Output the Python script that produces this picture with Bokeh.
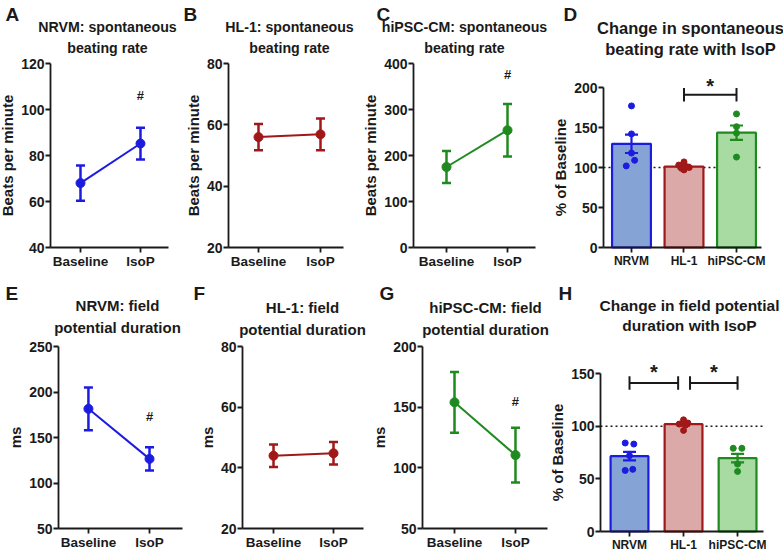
from bokeh.plotting import figure
from bokeh.models import Range1d, FixedTicker, Label, Whisker, TeeHead, ColumnDataSource
from bokeh.layouts import row, column
from bokeh.embed import file_html
from bokeh.resources import INLINE

FONT = "Liberation Sans"
INK = "#1a1a1a"

# ---------------- data ----------------
time_points = ["Baseline", "IsoP"]
cell_types = ["NRVM", "HL-1", "hiPSC-CM"]

nrvm_rate_mean = [68.0, 85.2]
nrvm_rate_sem = [7.7, 6.9]
hl1_rate_mean = [56.0, 56.9]
hl1_rate_sem = [4.3, 5.2]
ipsc_rate_mean = [175.0, 255.0]
ipsc_rate_sem = [35.0, 57.0]

nrvm_fpd_mean = [181.5, 126.5]
nrvm_fpd_sem = [23.5, 12.8]
hl1_fpd_mean = [44.0, 44.8]
hl1_fpd_sem = [3.7, 3.7]
ipsc_fpd_mean = [154.0, 110.5]
ipsc_fpd_sem = [25.0, 22.5]

rate_change_mean = [129.6, 101.2, 143.5]
rate_change_sem = [11.5, 2.0, 9.0]
rate_change_nrvm = [177, 142, 118, 102, 109]
rate_change_hl1 = [107, 103, 100, 97, 99, 101]
rate_change_ipsc = [167, 151, 143, 113]

fpd_change_mean = [71.5, 102.0, 69.7]
fpd_change_sem = [4.0, 1.5, 4.0]
fpd_change_nrvm = [84, 83, 72, 58, 59]
fpd_change_hl1 = [106, 103, 102, 101, 96]
fpd_change_ipsc = [79, 79, 64, 57]

rate_hash = [106, None, 376]
fpd_hash = [173, None, 155]
baseline_pct = 100

# ---------------- styling ----------------
BLUE, RED, GREEN = "#1c1ce0", "#a01818", "#1f8a1f"
FILLS = ["#86a3d5", "#dca9a9", "#a8dba2"]
LINES = [BLUE, RED, GREEN]
# horizontal scatter offsets for the individual points (presentation only)
JIT_RATE = [[0, 0, 0, -0.1, 0.06], [0, -0.1, 0.1, 0, -0.05, 0.05], [0, 0, 0, 0]]
JIT_FPD = [[-0.08, 0.08, 0, -0.08, 0.06], [0, 0.08, -0.08, 0.04, 0], [-0.08, 0.08, 0, 0]]


def spec(w, h, fl, fw, ft, fh, xr, yr):
    return dict(w=w, h=h, fl=fl, fw=fw, ft=ft, fh=fh, xr=xr, yr=yr)


def xd(s, px):
    """pixel offset from the left edge of the data area -> data x"""
    x0, x1 = s["xr"]
    return x0 + px * (x1 - x0) / s["fw"]


def yd(s, py):
    """pixel offset below the top edge of the data area -> data y"""
    y0, y1 = s["yr"]
    return y1 - py * (y1 - y0) / s["fh"]


def make_fig(s):
    full_x = (xd(s, -s["fl"]), xd(s, s["w"] - s["fl"]))
    full_y = (yd(s, s["h"] - s["ft"]), yd(s, -s["ft"]))
    p = figure(width=s["w"], height=s["h"], x_range=Range1d(*full_x), y_range=Range1d(*full_y),
               min_border_left=0, min_border_right=0, min_border_top=0, min_border_bottom=0,
               toolbar_location=None, output_backend="svg", outline_line_color=None, title=None)
    p.xgrid.visible = False
    p.ygrid.visible = False
    return p


def style(p, s, xticks, xlabels, xsize, yticks, ylabel):
    for ax in (p.xaxis[0], p.yaxis[0]):
        ax.axis_line_color = INK
        ax.axis_line_width = 1.8
        ax.major_tick_line_color = INK
        ax.major_tick_line_width = 1.8
        ax.major_tick_in = 0
        ax.major_tick_out = 5
        ax.minor_tick_line_color = None
        ax.major_label_text_font = FONT
        ax.major_label_text_font_style = "bold"
        ax.major_label_text_color = INK
        ax.major_label_standoff = 1
    p.xaxis.major_label_text_font_size = xsize
    p.yaxis.major_label_text_font_size = "14px"
    p.xaxis.ticker = FixedTicker(ticks=xticks)
    p.xaxis.major_label_overrides = {t: l for t, l in zip(xticks, xlabels)}
    p.xaxis.fixed_location = s["yr"][0]
    p.xaxis.bounds = s["xr"]
    p.yaxis.ticker = FixedTicker(ticks=yticks)
    p.yaxis.fixed_location = s["xr"][0]
    p.yaxis.bounds = s["yr"]
    p.yaxis.axis_label = ylabel
    p.yaxis.axis_label_text_font = FONT
    p.yaxis.axis_label_text_font_style = "bold"
    p.yaxis.axis_label_text_font_size = "15px"
    p.yaxis.axis_label_text_color = INK
    p.yaxis.axis_label_standoff = 2


def label(p, s, px, py, text, size, align="center", baseline="middle"):
    p.add_layout(Label(x=xd(s, px), y=yd(s, py), text=text, text_font=FONT,
                       text_font_style="bold", text_font_size=size, text_color=INK,
                       text_align=align, text_baseline=baseline))


def titles(p, s, lines, above, cx, size):
    for t, o in zip(lines, above):
        label(p, s, cx, -o, t, size)


def letter(p, s, letter_text, lx, ly):
    label(p, s, lx - s["fl"], ly - s["ft"], letter_text, "19px", align="left", baseline="top")


def line_panel(s, means, sems, color, ylabel, yticks, hash_y):
    p = make_fig(s)
    xs = list(range(len(time_points)))
    src = ColumnDataSource(dict(x=xs, m=means,
                                lo=[m - e for m, e in zip(means, sems)],
                                hi=[m + e for m, e in zip(means, sems)]))
    p.line("x", "m", source=src, line_color=color, line_width=2)
    p.add_layout(Whisker(source=src, base="x", upper="hi", lower="lo", dimension="height",
                         line_color=color, line_width=2.5, level="overlay",
                         upper_head=TeeHead(size=9, line_color=color, line_width=2.5),
                         lower_head=TeeHead(size=9, line_color=color, line_width=2.5)))
    p.scatter("x", "m", source=src, size=9, color=color)
    style(p, s, xs, time_points, "13.5px", yticks, ylabel)
    if hash_y is not None:
        p.add_layout(Label(x=1, y=hash_y, text="#", text_font=FONT, text_font_style="bold",
                           text_font_size="13px", text_color=INK, text_align="center",
                           text_baseline="middle"))
    return p


def bar_panel(s, means, sems, groups, jit, yticks, bar_w, brackets, cap):
    p = make_fig(s)
    xs = list(range(len(cell_types)))
    p.segment(x0=[s["xr"][0]], y0=[baseline_pct], x1=[s["xr"][1]], y1=[baseline_pct],
              line_color=INK, line_dash="2 3", line_width=1.5)
    p.vbar(x=xs, top=means, bottom=0, width=bar_w, fill_color=FILLS, line_color=LINES, line_width=2.2)
    for i, (pts, jj) in enumerate(zip(groups, jit)):
        p.scatter([i + j for j in jj], pts, size=6, color=LINES[i])
        src = ColumnDataSource(dict(x=[i], lo=[means[i] - sems[i]], hi=[means[i] + sems[i]]))
        p.add_layout(Whisker(source=src, base="x", upper="hi", lower="lo", dimension="height",
                             line_color=LINES[i], line_width=2.2, level="overlay",
                             upper_head=TeeHead(size=13, line_color=LINES[i], line_width=2.2),
                             lower_head=TeeHead(size=13, line_color=LINES[i], line_width=2.2)))
    for (a, b, yb, ys) in brackets:
        p.segment(x0=[a, a, b], y0=[yb, yb - cap, yb - cap], x1=[b, a, b], y1=[yb, yb + cap, yb + cap],
                  line_color=INK, line_width=2)
        p.add_layout(Label(x=(a + b) / 2, y=ys, text="*", text_font=FONT, text_font_style="bold",
                           text_font_size="20px", text_color=INK, text_align="center",
                           text_baseline="alphabetic"))
    style(p, s, xs, cell_types, "12px", yticks, "% of Baseline")
    return p


# ---------------- row 1 (height 270) ----------------
sA = spec(180, 270, 50, 118, 63, 184, (-0.5, 1.467), (40, 120))
sB = spec(182, 270, 48, 115, 63, 184, (-0.484, 1.371), (20, 80))
sC = spec(191, 270, 51, 122, 63, 184, (-0.541, 1.459), (0, 400))
sD = spec(230, 270, 50, 158, 87, 160, (-0.533, 2.476), (0, 200))

pA = line_panel(sA, nrvm_rate_mean, nrvm_rate_sem, BLUE, "Beats per minute", [40, 60, 80, 100, 120], rate_hash[0])
titles(pA, sA, ["NRVM: spontaneous", "beating rate"], [37, 16], 57, "14.2px")
letter(pA, sA, "A", 5, 3)

pB = line_panel(sB, hl1_rate_mean, hl1_rate_sem, RED, "Beats per minute", [20, 40, 60, 80], rate_hash[1])
titles(pB, sB, ["HL-1: spontaneous", "beating rate"], [37, 16], 61, "14.2px")
letter(pB, sB, "B", 3, 3)

pC = line_panel(sC, ipsc_rate_mean, ipsc_rate_sem, GREEN, "Beats per minute", [0, 100, 200, 300, 400], rate_hash[2])
titles(pC, sC, ["hiPSC-CM: spontaneous", "beating rate"], [37, 16], 51, "14.2px")
letter(pC, sC, "C", 14, 3)

pD = bar_panel(sD, rate_change_mean, rate_change_sem, [rate_change_nrvm, rate_change_hl1, rate_change_ipsc],
               JIT_RATE, [0, 50, 100, 150, 200], 0.74, [(1, 2, 191, 202)], 8.5)
titles(pD, sD, ["Change in spontaneous", "beating rate with IsoP"], [60, 39], 87, "16.5px")
letter(pD, sD, "D", 10, 3)

# ---------------- row 2 (height 281) ----------------
sE = spec(188, 281, 58, 124, 76, 182, (-0.49, 1.54), (50, 250))
sF = spec(184, 281, 54, 121, 76, 182, (-0.517, 1.5), (20, 80))
sG = spec(178, 281, 50, 125, 76, 182, (-0.525, 1.525), (50, 200))
sH = spec(233, 281, 50, 163, 103, 158, (-0.537, 2.48), (0, 150))

pE = line_panel(sE, nrvm_fpd_mean, nrvm_fpd_sem, BLUE, "ms", [50, 100, 150, 200, 250], fpd_hash[0])
titles(pE, sE, ["NRVM: field", "potential duration"], [41, 19], 59, "15px")
letter(pE, sE, "E", 5, 12)

pF = line_panel(sF, hl1_fpd_mean, hl1_fpd_sem, RED, "ms", [20, 40, 60, 80], fpd_hash[1])
titles(pF, sF, ["HL-1: field", "potential duration"], [39, 17], 60, "15px")
letter(pF, sF, "F", 5, 12)

pG = line_panel(sG, ipsc_fpd_mean, ipsc_fpd_sem, GREEN, "ms", [50, 100, 150, 200], fpd_hash[2])
titles(pG, sG, ["hiPSC-CM: field", "potential duration"], [39, 17], 63, "15px")
letter(pG, sG, "G", 7, 12)

pH = bar_panel(sH, fpd_change_mean, fpd_change_sem, [fpd_change_nrvm, fpd_change_hl1, fpd_change_ipsc],
               JIT_FPD, [0, 50, 100, 150], 0.7, [(0, 0.9, 141, 151.5), (1.12, 2, 141, 151.5)], 6.5)
titles(pH, sH, ["Change in field potential", "duration with IsoP"], [68, 48], 89, "15.5px")
letter(pH, sH, "H", 8, 12)

layout = column(row(pA, pB, pC, pD), row(pE, pF, pG, pH))

with open("out.html", "w") as f:
    f.write(file_html(layout, INLINE, "Figure"))
